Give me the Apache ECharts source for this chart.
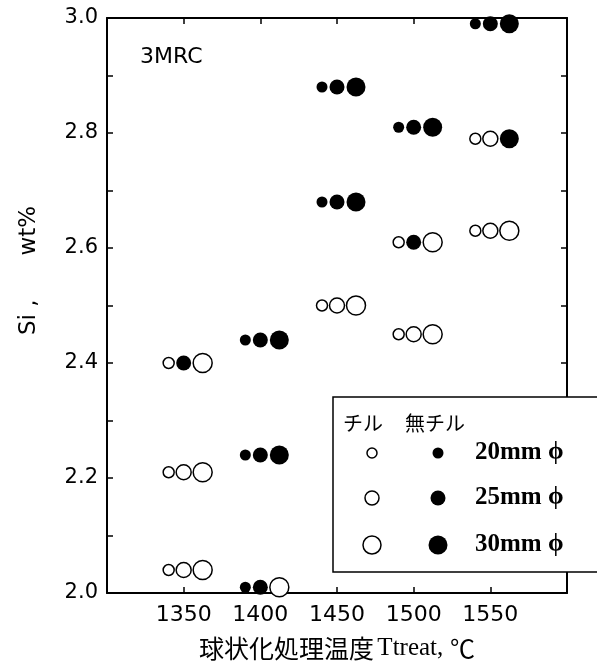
<!DOCTYPE html>
<html>
<head>
<meta charset="utf-8">
<script src="https://cdn.jsdelivr.net/npm/echarts@6/dist/echarts.min.js"></script>
<style>
  html, body { margin: 0; padding: 0; background: #fff; }
  #chart1 { width: 597px; height: 666px; }
</style>
</head>
<body>
<div id="chart1"></div>
<script>
// Si content vs. spheroidizing temperature, specimen sizes 20/25/30 mm
var temps = [1350, 1400, 1450, 1500, 1550];
var yTicks = [2.0, 2.2, 2.4, 2.6, 2.8, 3.0];

// open = chilled (チル), filled = no chill (無チル)
var chill20 = [[1350, 2.40], [1350, 2.21], [1350, 2.04], [1450, 2.50], [1500, 2.61], [1500, 2.45], [1550, 2.79], [1550, 2.63]];
var chill25 = [[1350, 2.21], [1350, 2.04], [1450, 2.50], [1500, 2.45], [1550, 2.79], [1550, 2.63]];
var chill30 = [[1350, 2.40], [1350, 2.21], [1350, 2.04], [1400, 2.01], [1450, 2.50], [1500, 2.61], [1500, 2.45], [1550, 2.63]];
var noChill20 = [[1400, 2.44], [1400, 2.24], [1400, 2.01], [1450, 2.88], [1450, 2.68], [1500, 2.81], [1550, 2.99]];
var noChill25 = [[1350, 2.40], [1400, 2.44], [1400, 2.24], [1400, 2.01], [1450, 2.88], [1450, 2.68], [1500, 2.81], [1500, 2.61], [1550, 2.99]];
var noChill30 = [[1400, 2.44], [1400, 2.24], [1450, 2.88], [1450, 2.68], [1500, 2.81], [1550, 2.99], [1550, 2.79]];

var sizes = { d20: 11, d25: 15, d30: 19 };
var shift = { d20: -15, d25: 0, d30: 19 };

var myChart = echarts.init(document.getElementById('chart1'));

function dots(name, data, key, filled) {
  return {
    name: name,
    type: 'scatter',
    data: data,
    symbol: 'circle',
    symbolSize: sizes[key],
    symbolOffset: [shift[key], 0],
    itemStyle: {
      color: filled ? '#000' : '#fff',
      borderColor: '#000',
      borderWidth: filled ? 0 : 1.5,
      opacity: 1
    },
    z: 5
  };
}

var frameLine = { show: true, lineStyle: { color: '#000', width: 2 } };
var inTick = { show: true, inside: true, length: 6, lineStyle: { color: '#000', width: 1.5 } };

// legend box (drawn by hand like the figure)
var lx = 333, ly = 397;
var legendRows = [
  { label: '20mm ϕ', key: 'd20', y: 453 },
  { label: '25mm ϕ', key: 'd25', y: 498 },
  { label: '30mm ϕ', key: 'd30', y: 545 }
];
var legendGraphics = [
  {
    type: 'rect', z: 100,
    shape: { x: lx, y: ly, width: 300, height: 175 },
    style: { fill: '#fff', stroke: '#000', lineWidth: 1.5 }
  },
  {
    type: 'text', z: 101, x: 343, y: 423,
    style: { text: 'チル', font: '20px "Noto Sans CJK JP"', fill: '#000', verticalAlign: 'middle' }
  },
  {
    type: 'text', z: 101, x: 405, y: 423,
    style: { text: '無チル', font: '20px "Noto Sans CJK JP"', fill: '#000', verticalAlign: 'middle' }
  }
];
legendRows.forEach(function (r) {
  legendGraphics.push({
    type: 'circle', z: 101,
    shape: { cx: 372, cy: r.y, r: sizes[r.key] / 2 - 0.5 },
    style: { fill: '#fff', stroke: '#000', lineWidth: 1.5 }
  });
  legendGraphics.push({
    type: 'circle', z: 101,
    shape: { cx: 438, cy: r.y, r: sizes[r.key] / 2 },
    style: { fill: '#000' }
  });
  legendGraphics.push({
    type: 'text', z: 101, x: 475, y: r.y,
    style: { text: r.label, font: 'bold 25px "Liberation Serif"', fill: '#000', verticalAlign: 'middle' }
  });
});

option = {
  backgroundColor: '#fff',
  animation: false,
  title: {
    text: '3MRC',
    left: 140,
    top: 46,
    padding: 0,
    textStyle: { fontFamily: 'DejaVu Sans', fontSize: 22, fontWeight: 'normal', color: '#000' }
  },
  grid: { left: 107, right: 30, top: 18, bottom: 71 },
  xAxis: [
    {
      type: 'value',
      position: 'bottom',
      min: 1300,
      max: 1600,
      interval: 50,
      axisLine: frameLine,
      axisTick: { show: true, inside: true, length: 6, lineStyle: { color: '#000', width: 1.5 }, customValues: temps },
      splitLine: { show: false },
      axisLabel: {
        customValues: temps,
        color: '#000',
        fontFamily: 'DejaVu Sans',
        fontSize: 22,
        margin: 11,
        formatter: function (v) { return String(v); }
      },
      name: '{c|球状化処理温度} {t|Ttreat,}  {c|℃}',
      nameLocation: 'middle',
      nameGap: 43,
      nameTextStyle: {
        rich: {
          c: { fontFamily: 'Noto Sans CJK JP', fontSize: 25, color: '#000' },
          t: { fontFamily: 'Liberation Serif', fontSize: 25, color: '#000' }
        }
      }
    },
    {
      type: 'value',
      position: 'top',
      min: 1300,
      max: 1600,
      interval: 50,
      axisLine: frameLine,
      axisTick: { show: true, inside: true, length: 6, lineStyle: { color: '#000', width: 1.5 }, customValues: temps },
      axisLabel: { show: false },
      splitLine: { show: false }
    }
  ],
  yAxis: [
    {
      type: 'value',
      position: 'left',
      min: 2.0,
      max: 3.0,
      interval: 0.1,
      axisLine: frameLine,
      axisTick: inTick,
      splitLine: { show: false },
      axisLabel: {
        color: '#000',
        fontFamily: 'DejaVu Sans',
        fontSize: 21,
        margin: 9,
        formatter: function (v) {
          var hit = yTicks.some(function (t) { return Math.abs(t - v) < 1e-6; });
          return hit ? v.toFixed(1) : '';
        }
      },
      name: 'Si ,      wt%',
      nameLocation: 'middle',
      nameGap: 66,
      nameTextStyle: {
        fontFamily: 'DejaVu Sans',
        fontSize: 23,
        color: '#000',
        padding: [0, 0, 0, 70]
      }
    },
    {
      type: 'value',
      position: 'right',
      min: 2.0,
      max: 3.0,
      interval: 0.1,
      axisLine: frameLine,
      axisTick: inTick,
      axisLabel: { show: false },
      splitLine: { show: false }
    }
  ],
  graphic: legendGraphics,
  series: [
    dots('チル 20mm', chill20, 'd20', false),
    dots('チル 25mm', chill25, 'd25', false),
    dots('チル 30mm', chill30, 'd30', false),
    dots('無チル 20mm', noChill20, 'd20', true),
    dots('無チル 25mm', noChill25, 'd25', true),
    dots('無チル 30mm', noChill30, 'd30', true)
  ]
};
myChart.setOption(option);
</script>
</body>
</html>
